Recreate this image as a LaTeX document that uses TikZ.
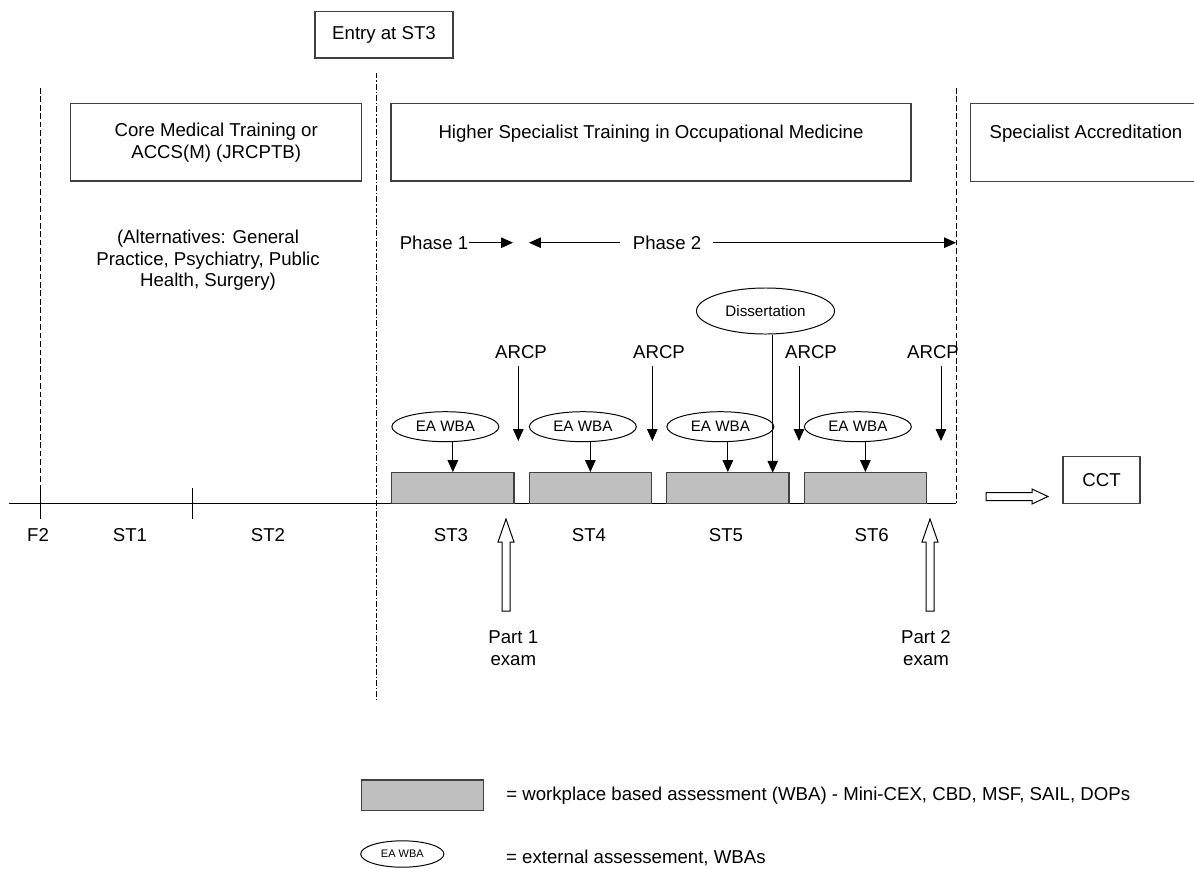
\documentclass[tikz,border=0pt]{standalone}
\usepackage{fontspec}
\setmainfont{Liberation Sans}
\usetikzlibrary{arrows.meta, shapes.geometric, positioning}

\begin{document}
\begin{tikzpicture}[x=0.025cm, y=-0.025cm, line width=0.7pt,
            every node/.style={font=\fontsize{13.25}{15.4}\selectfont, inner sep=0pt},
            box/.style={draw=black!75, line width=0.9pt, align=center},
            wba/.style={draw=black!75, line width=0.9pt, fill=gray!50, minimum width=3.06cm, minimum height=0.765cm},
            eawba/.style={draw, ellipse, minimum width=2.675cm, minimum height=0.75cm, font=\fontsize{10.8}{12}\selectfont},
            tri/.style={-{Triangle[length=8.5pt, width=7.5pt]}},
            hollow/.style={draw, fill=white, line width=0.7pt},
            bigdash/.style={dash pattern=on 4pt off 2pt},
            dashdot/.style={dash pattern=on 4pt off 1.5pt on 1pt off 1.5pt}]
            \useasboundingbox (0,0) rectangle (1194,868);

            \node[box, minimum width=3.45cm, minimum height=1.16cm] (entry) at (384,34.8) {Entry at ST3};
            \node[box, minimum width=7.275cm, minimum height=1.93cm] (core) at (216.2,142.35) {Core Medical Training or\\ACCS(M) (JRCPTB)};
            \node[box, minimum width=13cm, minimum height=1.93cm] (hst) at (651,142.35) {Higher Specialist Training in Occupational Medicine\\ ~};
            \node[minimum width=5.75cm, minimum height=1.93cm, align=center] (spec) at (1086,142.35) {Specialist Accreditation\\ ~};
            \draw[draw=black!75, line width=0.9pt] (spec.north east) -- (spec.north west) -- (spec.south west) -- (spec.south east);
            \node[align=center] (alt) at (208,260.5) {(Alternatives: General\\Practice, Psychiatry, Public\\Health, Surgery)};

            \draw[bigdash] (40.3,88) -- (40.3,503.3);
            \draw[dashdot] (376.7,72.7) -- (376.7,700);
            \draw[bigdash] (956,88) -- (956,503.3);

            \node (ph1) at (434,242.7) {Phase 1};
            \coordinate (ph1tip) at (513,242.7);
            \draw[tri] (ph1.east) -- (ph1tip);
            \node (ph2) at (667,242.7) {Phase 2};
            \coordinate (ph2l) at (529,242.7);
            \coordinate (ph2r) at (956,242.7);
            \draw[tri, shorten <=0.3cm] (ph2.west) -- (ph2l);
            \draw[tri, shorten <=0.275cm] (ph2.east) -- (ph2r);

            \draw (9.3,503.3) -- (956,503.3);
            \foreach \x in {40.3,192.7}
                \draw (\x,487.7) -- (\x,519);
            \foreach \x/\t in {38/F2,130/ST1,268/ST2,451/ST3,589/ST4,726/ST5,871.7/ST6}
                \node (\t) at (\x,535) {\t};

            \foreach \i/\x in {1/452.85,2/590.35,3/727.85,4/865.35} {
                \node[wba] (wba\i) at (\x,488) {};
                \node[eawba] (ea\i) at (\x-7.5,426.7) {EA WBA};
                \draw[tri] (ea\i.south -| wba\i.north) -- (wba\i.north);
            }

            \foreach \i/\a/\l in {1/518.3/521,2/652.3/659,3/799/811,4/941/933} {
                \node (arcp\i) at (\l,352) {ARCP};
                \coordinate (arcptip\i) at (\a,441);
                \draw[tri, shorten <=0.175cm] (arcp\i.south -| arcptip\i) -- (arcptip\i);
            }

            \node[eawba, minimum width=3.45cm, minimum height=1.15cm] (diss) at (765.5,311) {Dissertation};
            \coordinate (disstip) at (772.7,472.7);
            \draw[tri] (diss.south -| disstip) -- (disstip);

            \coordinate (p1tip) at (506,519);
            \draw[hollow] (p1tip) -- ++(8,23) -- ++(-4,0) -- ++(0,69) -- ++(-8,0) -- ++(0,-69) -- ++(-4,0) -- cycle;
            \node[align=center] (p1lbl) at (513.3,648.3) {Part 1\\exam};
            \coordinate (p2tip) at (930,519);
            \draw[hollow] (p2tip) -- ++(8,23) -- ++(-4,0) -- ++(0,69) -- ++(-8,0) -- ++(0,-69) -- ++(-4,0) -- cycle;
            \node[align=center] (p2lbl) at (926,648.3) {Part 2\\exam};

            \node[box, minimum width=1.925cm, minimum height=1.165cm] (cct) at (1101.5,480) {CCT};
            \coordinate (ccttip) at (1048,496.5);
            \draw[hollow] (ccttip) -- ++(-16,-7.5) -- ++(0,3.5) -- ++(-46,0) -- ++(0,8) -- ++(46,0) -- ++(0,3.5) -- cycle;

            \node[wba] (keybox) at (422.35,795.35) {};
            \node[right=0.54cm of keybox] (keytxt1) {= workplace based assessment (WBA) - Mini-CEX, CBD, MSF, SAIL, DOPs};
            \node[eawba, minimum width=2.08cm, minimum height=0.66cm, font=\fontsize{7.8}{9}\selectfont] (keyell) at (402.3,854) {EA WBA};
            \node[anchor=west] (keytxt2) at (505.7,858.3) {= external assessement, WBAs};
        \end{tikzpicture}
\end{document}
